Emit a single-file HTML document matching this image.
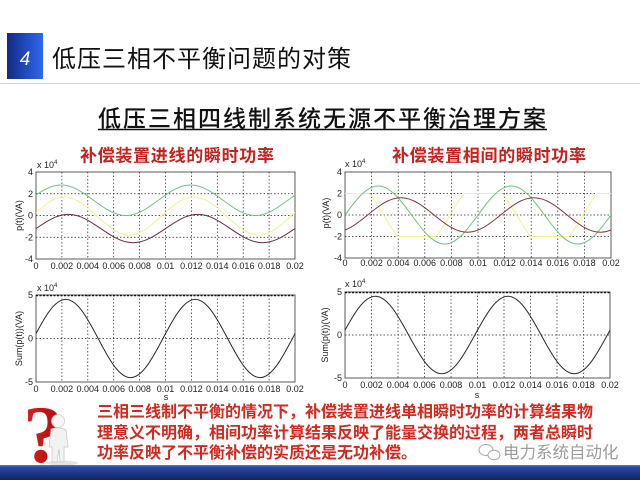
<!DOCTYPE html>
<html><head><meta charset="utf-8"><style>
html,body{margin:0;padding:0;background:#fff;width:640px;height:480px;overflow:hidden}
svg{display:block}
.t{font-family:"Liberation Sans",Arial,sans-serif;font-size:9px;fill:#222}
.cjk{font-family:"Liberation Sans","Noto Sans CJK SC",sans-serif}
.g{stroke:#222;stroke-width:0.7;stroke-dasharray:1.5 2;fill:none}
.box{fill:#fff;stroke:#333;stroke-width:0.8}
.c{fill:none;stroke-width:1;vector-effect:non-scaling-stroke}
</style></head><body>
<svg width="640" height="480" viewBox="0 0 640 480" xmlns="http://www.w3.org/2000/svg">
<defs>
<linearGradient id="nb" x1="0" y1="0" x2="1" y2="0"><stop offset="0" stop-color="#122a86"/><stop offset="1" stop-color="#2f68f0"/></linearGradient>
<linearGradient id="bar" x1="0" y1="0" x2="0" y2="1"><stop offset="0" stop-color="#5a78d0"/><stop offset="0.15" stop-color="#2c48a4"/><stop offset="1" stop-color="#14235f"/></linearGradient>
<linearGradient id="qm" x1="0" y1="0" x2="1" y2="0"><stop offset="0" stop-color="#e02020"/><stop offset="1" stop-color="#a80c0c"/></linearGradient>
<clipPath id="c1"><rect x="36" y="172" width="259" height="87"/></clipPath>
<clipPath id="c2"><rect x="345" y="172" width="266" height="86"/></clipPath>
<clipPath id="c2y"><rect x="345" y="193.5" width="266" height="43"/></clipPath>
<clipPath id="c3"><rect x="36" y="295" width="259" height="87"/></clipPath>
<clipPath id="c4"><rect x="345" y="292" width="265" height="86"/></clipPath>
</defs>
<rect width="640" height="480" fill="#fff"/>

<!-- header -->
<rect x="7" y="33" width="36" height="46" fill="url(#nb)"/>
<text x="25" y="65" text-anchor="middle" font-family="Liberation Sans,sans-serif" font-style="italic" font-size="19" fill="#fff">4</text>
<text x="52" y="67" class="cjk" font-size="24" letter-spacing="1" fill="#111">低压三相不平衡问题的对策</text>
<line x1="0" y1="83.5" x2="640" y2="83.5" stroke="#d4d4d4" stroke-width="1"/>

<text x="98" y="126.5" class="cjk" font-size="23" letter-spacing="2" fill="#111" font-weight="500">低压三相四线制系统无源不平衡治理方案</text>
<line x1="98" y1="129.5" x2="547" y2="129.5" stroke="#111" stroke-width="1.5"/>

<text x="80" y="161.5" class="cjk" font-size="17" letter-spacing="0.7" font-weight="bold" fill="#c8201c">补偿装置进线的瞬时功率</text>
<text x="392" y="161.5" class="cjk" font-size="17" letter-spacing="0.7" font-weight="bold" fill="#c8201c">补偿装置相间的瞬时功率</text>

<!-- ========== Plot 1 (top-left) ========== -->
<rect class="box" x="36" y="172" width="259" height="87"/>
<g class="g">
<path d="M61.9 172V259M87.8 172V259M113.7 172V259M139.6 172V259M165.5 172V259M191.4 172V259M217.3 172V259M243.2 172V259M269.1 172V259M36 193.75H295M36 215.5H295M36 237.25H295"/>
</g>
<g clip-path="url(#c1)">
<path class="c" stroke="#f3f28e" transform="translate(32.04,216.04) scale(0.35972,19.03)" d="M-360,0 c29.36,-0.5125 57.53,-1 90,-1 s60.64,0.4875 90,1 s57.53,1 90,1 s60.64,-0.4875 90,-1 s57.53,-1 90,-1 s60.64,0.4875 90,1 s57.53,1 90,1 s60.64,-0.4875 90,-1 s57.53,-1 90,-1 s60.64,0.4875 90,1 s57.53,1 90,1 s60.64,-0.4875 90,-1 s57.53,-1 90,-1 s60.64,0.4875 90,1 s57.53,1 90,1 s60.64,-0.4875 90,-1"/>
<path class="c" stroke="#6cc47c" transform="translate(28.81,200.275) scale(0.35972,15.225)" d="M-360,0 c29.36,-0.5125 57.53,-1 90,-1 s60.64,0.4875 90,1 s57.53,1 90,1 s60.64,-0.4875 90,-1 s57.53,-1 90,-1 s60.64,0.4875 90,1 s57.53,1 90,1 s60.64,-0.4875 90,-1 s57.53,-1 90,-1 s60.64,0.4875 90,1 s57.53,1 90,1 s60.64,-0.4875 90,-1 s57.53,-1 90,-1 s60.64,0.4875 90,1 s57.53,1 90,1 s60.64,-0.4875 90,-1"/>
<path class="c" stroke="#6a2a48" transform="translate(36,228.55) scale(0.35972,14.14)" d="M-360,0 c29.36,-0.5125 57.53,-1 90,-1 s60.64,0.4875 90,1 s57.53,1 90,1 s60.64,-0.4875 90,-1 s57.53,-1 90,-1 s60.64,0.4875 90,1 s57.53,1 90,1 s60.64,-0.4875 90,-1 s57.53,-1 90,-1 s60.64,0.4875 90,1 s57.53,1 90,1 s60.64,-0.4875 90,-1 s57.53,-1 90,-1 s60.64,0.4875 90,1 s57.53,1 90,1 s60.64,-0.4875 90,-1"/>
</g>
<g class="t" text-anchor="end">
<text x="33" y="175">4</text><text x="33" y="196.8">2</text><text x="33" y="218.5">0</text><text x="33" y="240.3">-2</text><text x="33" y="262">-4</text>
</g>
<text class="t" x="37" y="168">x 10<tspan font-size="6" dy="-4">4</tspan></text>
<g class="t" text-anchor="middle">
<text x="36" y="269">0</text><text x="61.9" y="269">0.002</text><text x="87.8" y="269">0.004</text><text x="113.7" y="269">0.006</text><text x="139.6" y="269">0.008</text><text x="165.5" y="269">0.01</text><text x="191.4" y="269">0.012</text><text x="217.3" y="269">0.014</text><text x="243.2" y="269">0.016</text><text x="269.1" y="269">0.018</text><text x="295" y="269">0.02</text>
</g>
<text class="t" transform="translate(22,215.5) rotate(-90)" text-anchor="middle">p(t)(VA)</text>

<!-- ========== Plot 2 (top-right) ========== -->
<rect class="box" x="345" y="172" width="266" height="86"/>
<g class="g">
<path d="M371.6 172V258M398.2 172V258M424.8 172V258M451.4 172V258M478 172V258M504.6 172V258M531.2 172V258M557.8 172V258M584.4 172V258M345 193.5H611M345 215H611M345 236.5H611"/>
</g>
<g clip-path="url(#c2)">
<g clip-path="url(#c2y)">
<path class="c" stroke="#f3f28e" transform="translate(317.07,215) scale(0.36944,35.475)" d="M-360,0 c29.36,-0.5125 57.53,-1 90,-1 s60.64,0.4875 90,1 s57.53,1 90,1 s60.64,-0.4875 90,-1 s57.53,-1 90,-1 s60.64,0.4875 90,1 s57.53,1 90,1 s60.64,-0.4875 90,-1 s57.53,-1 90,-1 s60.64,0.4875 90,1 s57.53,1 90,1 s60.64,-0.4875 90,-1 s57.53,-1 90,-1 s60.64,0.4875 90,1 s57.53,1 90,1 s60.64,-0.4875 90,-1"/>
</g>
<path d="M345 193.5H369.7M463.9 193.5H502.7M596.9 193.5H611M397.4 236.5H436.2M530.4 236.5H569.2" stroke="#f3f28e" stroke-width="1" fill="none"/>
<path class="c" stroke="#6cc47c" transform="translate(345,215) scale(0.36944,29.03)" d="M-360,0 c29.36,-0.5125 57.53,-1 90,-1 s60.64,0.4875 90,1 s57.53,1 90,1 s60.64,-0.4875 90,-1 s57.53,-1 90,-1 s60.64,0.4875 90,1 s57.53,1 90,1 s60.64,-0.4875 90,-1 s57.53,-1 90,-1 s60.64,0.4875 90,1 s57.53,1 90,1 s60.64,-0.4875 90,-1 s57.53,-1 90,-1 s60.64,0.4875 90,1 s57.53,1 90,1 s60.64,-0.4875 90,-1"/>
<path class="c" stroke="#86343f" transform="translate(367.61,215) scale(0.36944,17.2)" d="M-360,0 c29.36,-0.5125 57.53,-1 90,-1 s60.64,0.4875 90,1 s57.53,1 90,1 s60.64,-0.4875 90,-1 s57.53,-1 90,-1 s60.64,0.4875 90,1 s57.53,1 90,1 s60.64,-0.4875 90,-1 s57.53,-1 90,-1 s60.64,0.4875 90,1 s57.53,1 90,1 s60.64,-0.4875 90,-1 s57.53,-1 90,-1 s60.64,0.4875 90,1 s57.53,1 90,1 s60.64,-0.4875 90,-1"/>
</g>
<g class="t" text-anchor="end">
<text x="342" y="175">4</text><text x="342" y="196.5">2</text><text x="342" y="218">0</text><text x="342" y="239.5">-2</text><text x="342" y="261">-4</text>
</g>
<text class="t" x="345" y="167">x 10<tspan font-size="6" dy="-4">4</tspan></text>
<g class="t" text-anchor="middle">
<text x="345" y="266">0</text><text x="371.6" y="266">0.002</text><text x="398.2" y="266">0.004</text><text x="424.8" y="266">0.006</text><text x="451.4" y="266">0.008</text><text x="478" y="266">0.01</text><text x="504.6" y="266">0.012</text><text x="531.2" y="266">0.014</text><text x="557.8" y="266">0.016</text><text x="584.4" y="266">0.018</text><text x="611" y="266">0.02</text>
</g>
<text class="t" transform="translate(329,213) rotate(-90)" text-anchor="middle">p(t)(VA)</text>

<!-- ========== Plot 3 (bottom-left) ========== -->
<rect class="box" x="36" y="295" width="259" height="87"/>
<g class="g">
<path d="M61.9 295V382M87.8 295V382M113.7 295V382M139.6 295V382M165.5 295V382M191.4 295V382M217.3 295V382M243.2 295V382M269.1 295V382M36 338.5H295"/>
</g>
<line x1="36" y1="295.5" x2="295" y2="295.5" stroke="#111" stroke-width="1.4" stroke-dasharray="2 1.5"/>
<g clip-path="url(#c3)">
<path class="c" stroke="#2a2a2a" transform="translate(33.41,338.5) scale(0.35972,39.15)" d="M-360,0 c29.36,-0.5125 57.53,-1 90,-1 s60.64,0.4875 90,1 s57.53,1 90,1 s60.64,-0.4875 90,-1 s57.53,-1 90,-1 s60.64,0.4875 90,1 s57.53,1 90,1 s60.64,-0.4875 90,-1 s57.53,-1 90,-1 s60.64,0.4875 90,1 s57.53,1 90,1 s60.64,-0.4875 90,-1 s57.53,-1 90,-1 s60.64,0.4875 90,1 s57.53,1 90,1 s60.64,-0.4875 90,-1"/>
</g>
<g class="t" text-anchor="end">
<text x="33" y="298">5</text><text x="33" y="341.5">0</text><text x="33" y="385">-5</text>
</g>
<text class="t" x="37" y="291">x 10<tspan font-size="6" dy="-4">4</tspan></text>
<g class="t" text-anchor="middle">
<text x="36" y="392">0</text><text x="61.9" y="392">0.002</text><text x="87.8" y="392">0.004</text><text x="113.7" y="392">0.006</text><text x="139.6" y="392">0.008</text><text x="165.5" y="392">0.01</text><text x="191.4" y="392">0.012</text><text x="217.3" y="392">0.014</text><text x="243.2" y="392">0.016</text><text x="269.1" y="392">0.018</text><text x="295" y="392">0.02</text>
</g>
<text class="t" transform="translate(22,338.5) rotate(-90)" text-anchor="middle">Sum(p(t))(VA)</text>
<text class="t" x="166" y="400" font-size="7" text-anchor="middle">s</text>

<!-- ========== Plot 4 (bottom-right) ========== -->
<rect class="box" x="345" y="292" width="265" height="86"/>
<g class="g">
<path d="M371.5 292V378M398 292V378M424.5 292V378M451 292V378M477.5 292V378M504 292V378M530.5 292V378M557 292V378M583.5 292V378M345 335H610"/>
</g>
<line x1="345" y1="292.5" x2="610" y2="292.5" stroke="#111" stroke-width="1.4" stroke-dasharray="2 1.5"/>
<g clip-path="url(#c4)">
<path class="c" stroke="#2a2a2a" transform="translate(342.35,335) scale(0.36806,38.7)" d="M-360,0 c29.36,-0.5125 57.53,-1 90,-1 s60.64,0.4875 90,1 s57.53,1 90,1 s60.64,-0.4875 90,-1 s57.53,-1 90,-1 s60.64,0.4875 90,1 s57.53,1 90,1 s60.64,-0.4875 90,-1 s57.53,-1 90,-1 s60.64,0.4875 90,1 s57.53,1 90,1 s60.64,-0.4875 90,-1 s57.53,-1 90,-1 s60.64,0.4875 90,1 s57.53,1 90,1 s60.64,-0.4875 90,-1"/>
</g>
<g class="t" text-anchor="end">
<text x="342" y="295">5</text><text x="342" y="338">0</text><text x="342" y="381">-5</text>
</g>
<text class="t" x="345" y="287">x 10<tspan font-size="6" dy="-4">4</tspan></text>
<g class="t" text-anchor="middle">
<text x="345" y="388">0</text><text x="371.5" y="388">0.002</text><text x="398" y="388">0.004</text><text x="424.5" y="388">0.006</text><text x="451" y="388">0.008</text><text x="477.5" y="388">0.01</text><text x="504" y="388">0.012</text><text x="530.5" y="388">0.014</text><text x="557" y="388">0.016</text><text x="583.5" y="388">0.018</text><text x="610" y="388">0.02</text>
</g>
<text class="t" x="477" y="398" text-anchor="middle">s</text>
<text class="t" transform="translate(328,335) rotate(-90)" text-anchor="middle">Sum(p(t))(VA)</text>

<!-- question mark figure -->
<text x="23" y="462" font-family="Liberation Serif,serif" font-weight="bold" font-size="82" fill="url(#qm)">?</text>
<ellipse cx="62" cy="463" rx="16" ry="2.5" fill="#e4e4e4"/>
<circle cx="58" cy="421" r="6.5" fill="#f6f6f6" stroke="#c8c8c8" stroke-width="0.7"/>
<path d="M51 429 Q58 426 66 430 L68 447 L64 447 L64 462 L60 462 L59 449 L57 462 L52 462 L52 447 L49 447 Z" fill="#f2f2f2" stroke="#c4c4c4" stroke-width="0.7"/>

<!-- red paragraph -->
<g class="cjk" font-size="16" font-weight="bold" fill="#d3291e">
<text x="97" y="417">三相三线制不平衡的情况下，补偿装置进线单相瞬时功率的计算结果物</text>
<text x="97" y="438">理意义不明确，相间功率计算结果反映了能量交换的过程，两者总瞬时</text>
<text x="97" y="458">功率反映了不平衡补偿的实质还是无功补偿。</text>
</g>

<!-- watermark -->
<g fill="none" stroke="#a8a8a8" stroke-width="1">
<ellipse cx="486" cy="450" rx="7" ry="5.5"/>
<ellipse cx="494" cy="455" rx="6" ry="4.8" fill="#fff"/>
</g>
<text x="503" y="458" class="cjk" font-size="16.5" fill="#9c9c9c">电力系统自动化</text>

<!-- bottom bar -->
<rect x="0" y="465" width="640" height="15" fill="url(#bar)"/>
</svg>
</body></html>
